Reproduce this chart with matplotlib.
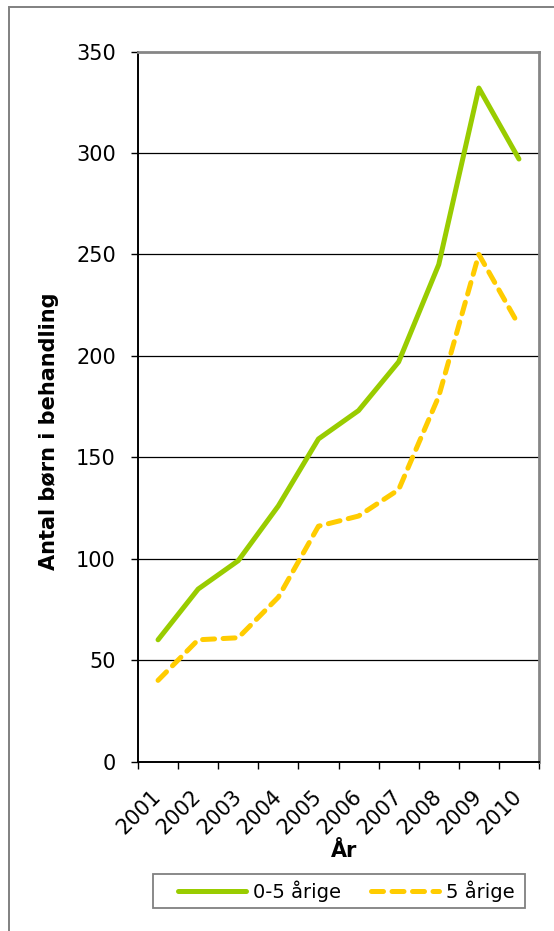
import numpy as np
import matplotlib
matplotlib.use("Agg")
import matplotlib.pyplot as plt
from matplotlib.patches import Rectangle
from matplotlib.ticker import FixedLocator

# data
years = ["2001", "2002", "2003", "2004", "2005", "2006", "2007", "2008", "2009", "2010"]
boern_0_5 = [60, 85, 99, 126, 159, 173, 197, 245, 332, 297]
boern_5 = [40, 60, 61, 81, 116, 121, 134, 180, 250, 215]
label_0_5 = "0-5 årige"
label_5 = "5 årige"

W, H = 554, 931
fig = plt.figure(figsize=(W / 100, H / 100), dpi=100)

# axes box in pixel coords of the reference
left, right, top, bottom = 138, 539, 51.5, 761.5
ax = fig.add_axes([left / W, 1 - bottom / H, (right - left) / W, (bottom - top) / H])

x = np.arange(len(years))
ax.plot(x, boern_0_5, color="#99CC00", lw=3.6, solid_capstyle="round",
        solid_joinstyle="round", label=label_0_5, zorder=3)
ax.plot(x, boern_5, color="#FFCC00", lw=3.6, dashes=(2.4, 1.7),
        dash_capstyle="round", label=label_5, zorder=3)

ax.set_xlim(-0.5, len(years) - 0.5)
ax.set_ylim(0, 350)
ax.set_yticks(np.arange(0, 351, 50))
for yv in range(50, 350, 50):
    ax.axhline(yv, color="black", lw=0.9, zorder=1)

ax.set_xticks(x)
ax.set_xticklabels(years, rotation=45, ha="right", va="center", rotation_mode="anchor")
ax.xaxis.set_minor_locator(FixedLocator(np.arange(-0.5, len(years), 1.0)))
ax.tick_params(axis="x", which="major", length=0, pad=23, labelsize=15)
ax.tick_params(axis="x", which="minor", length=5, width=1, color="black")
ax.tick_params(axis="y", length=5, width=1, pad=11, labelsize=15, color="black")

ax.spines["left"].set_color("black")
ax.spines["bottom"].set_color("black")
ax.spines["left"].set_linewidth(1.4)
ax.spines["bottom"].set_linewidth(1.4)
ax.spines["top"].set_color("#868686")
ax.spines["right"].set_color("#868686")
ax.spines["top"].set_linewidth(2)
ax.spines["right"].set_linewidth(2)

fig.text(49 / W, 1 - 431 / H, "Antal børn i behandling", rotation=90,
         ha="center", va="center", fontsize=15, fontweight="bold")
fig.text(344 / W, 1 - 851 / H, "År", ha="center", va="center",
         fontsize=15, fontweight="bold")

# legend drawn without its own frame; the box is added below
leg = fig.legend(loc="center", bbox_to_anchor=(346.5 / W, 1 - 891 / H), ncol=2,
                 fontsize=14, frameon=False, handlelength=3.5,
                 handletextpad=0.35, columnspacing=1.55)
fig.patches.append(Rectangle((153 / W, 1 - 908 / H), (525 - 153) / W, 34 / H,
                             transform=fig.transFigure, fill=False,
                             edgecolor="#808080", lw=1.3))

# outer chart border (only top and left visible in the reference)
fig.patches.append(Rectangle((9 / W, -0.05), 1.2, 1 - 7.5 / H + 0.05,
                             transform=fig.transFigure, fill=False,
                             edgecolor="#808080", lw=1.4))

fig.savefig("out.png", dpi=100)
